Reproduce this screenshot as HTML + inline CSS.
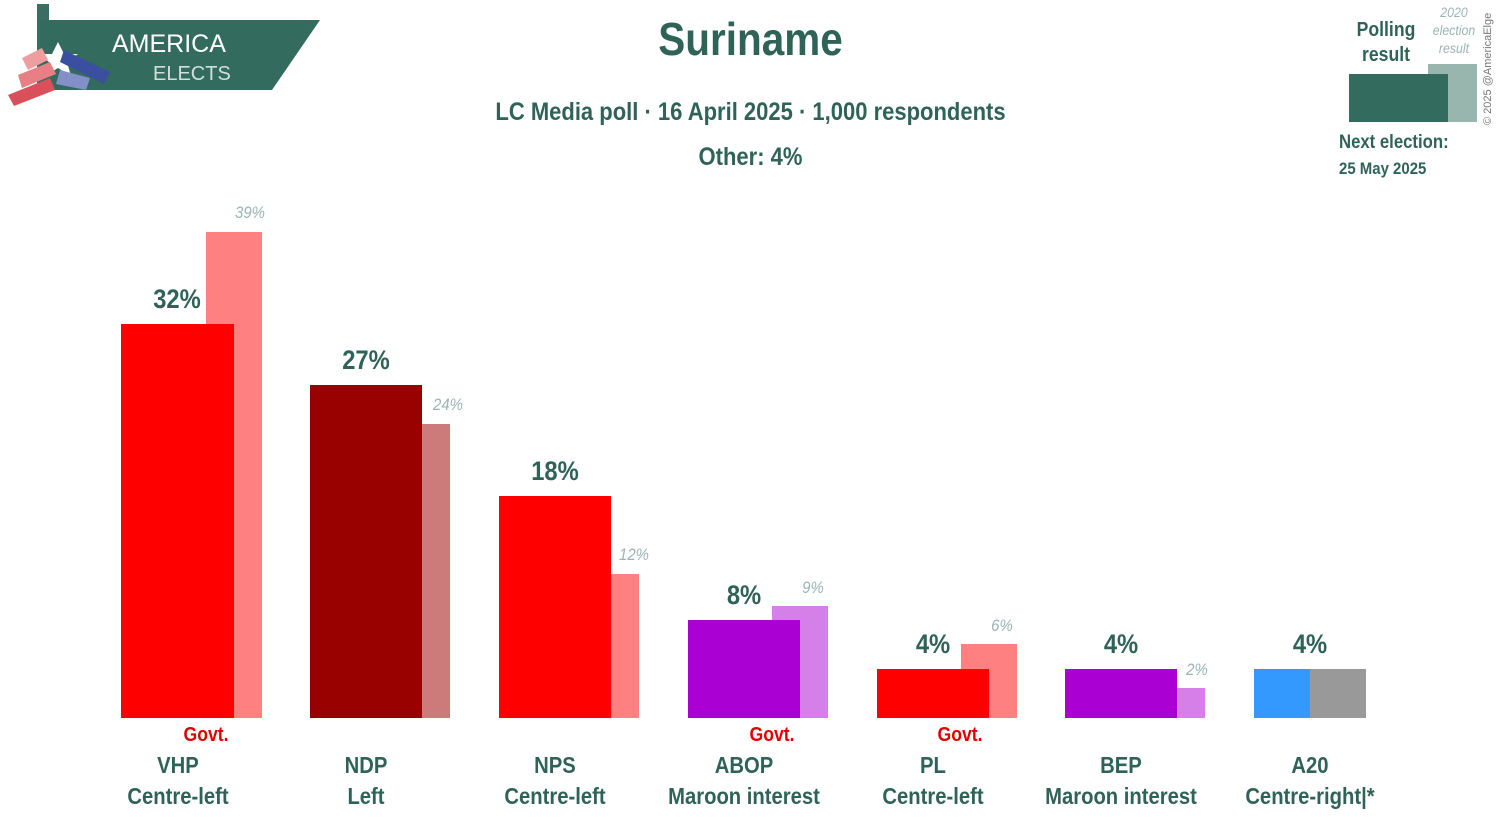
<!DOCTYPE html><html><head><meta charset="utf-8"><style>
body{margin:0;width:1501px;height:828px;background:#fff;position:relative;overflow:hidden;font-family:"Liberation Sans",sans-serif;color:#2f6358}
div{position:absolute}
.b{position:absolute}
.s{transform:scaleX(0.88);transform-origin:center}
.v{font-weight:bold;font-size:27px;text-align:center;width:160px}
.p{font-style:italic;font-size:17px;color:#9ab5b0;text-align:center;width:80px}
.n{font-weight:bold;font-size:23px;text-align:center;width:200px;line-height:31px}
.g{color:#e00000;font-weight:bold;font-size:20px;width:100px;text-align:center}
</style></head><body>
<svg style="position:absolute;left:0;top:0" width="330" height="110">
<rect x="37" y="4" width="12" height="80" fill="#3a6e62"/>
<rect x="50" y="20" width="12" height="60" fill="#7fa39b"/>
<rect x="62" y="32" width="12" height="40" fill="#a9c2bc"/>
<polygon points="40,20 320,20 272,90 40,90" fill="#346b5f"/>
<text x="112" y="52" font-family="Liberation Sans" font-size="25" fill="#fff">AMERICA</text>
<text x="153" y="80" font-family="Liberation Sans" font-size="20" fill="#cfe0dc">ELECTS</text>
<polygon points="58,42 64,54 78,54 67,62 71,76 58,68 45,76 49,62 38,54 52,54" fill="#fff"/>
<polygon points="8,95 50,78 55,90 14,106" fill="#d9505a"/>
<polygon points="18,75 50,62 56,74 22,88" fill="#e77f84"/>
<polygon points="22,58 42,48 48,60 28,70" fill="#ef9ea0"/>
<polygon points="64,50 110,72 104,84 60,62" fill="#3b4fa0"/>
<polygon points="60,70 90,78 86,90 56,84" fill="#8390c8"/>
</svg>
<div class="s" style="left:0;width:1501px;top:12px;text-align:center;font-size:46px;font-weight:bold">Suriname</div>
<div class="s" style="left:0;width:1501px;top:98px;text-align:center;font-size:25px;font-weight:bold">LC Media poll · 16 April 2025 · 1,000 respondents</div>
<div class="s" style="left:0;width:1501px;top:143px;text-align:center;font-size:25px;font-weight:bold">Other: 4%</div>
<div class="s" style="left:1340px;top:18px;width:92px;text-align:center;font-size:20px;font-weight:bold;line-height:25px">Polling<br>result</div>
<div class="s" style="left:1425px;top:3px;width:58px;text-align:center;font-size:14px;font-style:italic;color:#9ab5b0;line-height:18px">2020<br>election<br>result</div>
<div class="b" style="left:1428px;top:64px;width:49px;height:58px;background:#98b5ae"></div>
<div class="b" style="left:1349px;top:74px;width:99px;height:48px;background:#346b5f"></div>
<div style="left:1339px;top:132px;font-size:19px;font-weight:bold;transform:scaleX(0.88);transform-origin:left">Next election:</div>
<div style="left:1339px;top:159px;font-size:17px;font-weight:bold;transform:scaleX(0.88);transform-origin:left">25 May 2025</div>
<div style="left:1482px;top:125px;font-size:11px;color:#777;transform:rotate(-90deg);transform-origin:0 0;white-space:nowrap">© 2025 @AmericaElge</div>

<div class="b" style="left:206px;top:232px;width:56px;height:486px;background:#ff8080"></div>
<div class="b" style="left:121px;top:324px;width:113px;height:394px;background:#ff0000"></div>
<div class="b" style="left:422px;top:424px;width:28px;height:294px;background:#cc7a7a"></div>
<div class="b" style="left:310px;top:385px;width:112px;height:333px;background:#990000"></div>
<div class="b" style="left:611px;top:574px;width:28px;height:144px;background:#ff8080"></div>
<div class="b" style="left:499px;top:496px;width:112px;height:222px;background:#ff0000"></div>
<div class="b" style="left:772px;top:606px;width:56px;height:112px;background:#d580e9"></div>
<div class="b" style="left:688px;top:620px;width:112px;height:98px;background:#aa00d4"></div>
<div class="b" style="left:961px;top:644px;width:56px;height:74px;background:#ff8080"></div>
<div class="b" style="left:877px;top:669px;width:112px;height:49px;background:#ff0000"></div>
<div class="b" style="left:1177px;top:688px;width:28px;height:30px;background:#d580e9"></div>
<div class="b" style="left:1065px;top:669px;width:112px;height:49px;background:#aa00d4"></div>
<div class="b" style="left:1254px;top:669px;width:56px;height:49px;background:#3399ff"></div>
<div class="b" style="left:1310px;top:669px;width:56px;height:49px;background:#999"></div>

<div class="v s" style="left:97px;top:284px">32%</div>
<div class="v s" style="left:286px;top:345px">27%</div>
<div class="v s" style="left:475px;top:456px">18%</div>
<div class="v s" style="left:664px;top:580px">8%</div>
<div class="v s" style="left:853px;top:629px">4%</div>
<div class="v s" style="left:1041px;top:629px">4%</div>
<div class="v s" style="left:1230px;top:629px">4%</div>
<div class="p s" style="left:210px;top:203px">39%</div>
<div class="p s" style="left:408px;top:395px">24%</div>
<div class="p s" style="left:594px;top:545px">12%</div>
<div class="p s" style="left:773px;top:578px">9%</div>
<div class="p s" style="left:962px;top:616px">6%</div>
<div class="p s" style="left:1157px;top:660px">2%</div>

<div class="g s" style="left:156px;top:724px">Govt.</div>
<div class="g s" style="left:722px;top:724px">Govt.</div>
<div class="g s" style="left:910px;top:724px">Govt.</div>
<div class="n s" style="left:78px;top:750px">VHP<br>Centre-left</div>
<div class="n s" style="left:266px;top:750px">NDP<br>Left</div>
<div class="n s" style="left:455px;top:750px">NPS<br>Centre-left</div>
<div class="n s" style="left:644px;top:750px">ABOP<br>Maroon interest</div>
<div class="n s" style="left:833px;top:750px">PL<br>Centre-left</div>
<div class="n s" style="left:1021px;top:750px">BEP<br>Maroon interest</div>
<div class="n s" style="left:1210px;top:750px">A20<br>Centre-right|*</div>
</body></html>
